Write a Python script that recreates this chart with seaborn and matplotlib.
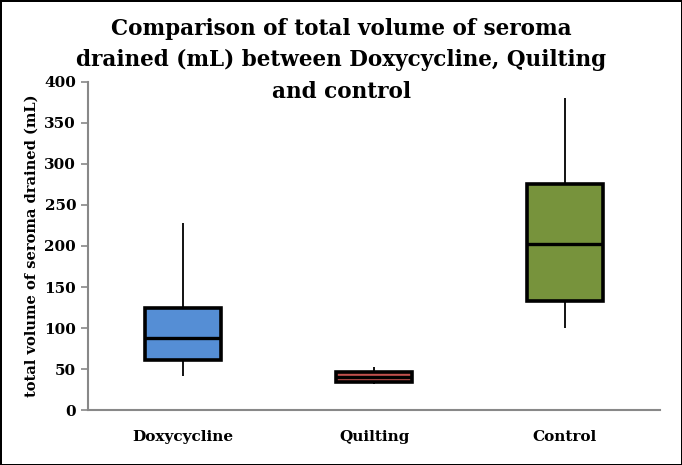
import matplotlib
matplotlib.use("Agg")
import matplotlib.pyplot as plt
import seaborn as sns
import pandas as pd
from matplotlib.ticker import FixedLocator

# five-number summaries (min, Q1, median, Q3, max)
groups = ["Doxycycline", "Quilting", "Control"]
doxycycline = [41, 61, 88, 124, 228]
quilting = [32, 34, 40, 46, 52]
control = [100, 133, 202, 276, 380]
colors = ["#558ED5", "#C0504D", "#77933C"]

df = pd.DataFrame({
    "group": [g for g, v in zip(groups, [doxycycline, quilting, control]) for _ in v],
    "volume": doxycycline + quilting + control,
})

sns.set_style("white")
plt.rcParams["font.family"] = ["DejaVu Serif"]
plt.rcParams["text.color"] = "black"
plt.rcParams["axes.labelcolor"] = "black"

fig = plt.figure(figsize=(6.82, 4.65), dpi=100)
fig.patch.set_edgecolor("black")
fig.patch.set_linewidth(2)
ax = fig.add_axes([0.129, 0.118, 0.839, 0.706])

sns.boxplot(data=df, x="group", y="volume", hue="group", palette=colors,
            order=groups, whis=(0, 100), width=0.4, saturation=1, ax=ax, legend=False,
            boxprops=dict(edgecolor="black", linewidth=2.6),
            medianprops=dict(color="black", linewidth=2.4),
            whiskerprops=dict(color="black", linewidth=1.3),
            capprops=dict(linewidth=0))

ax.set_ylim(0, 400)
ax.set_xlim(-0.5, 2.5)
ax.set_yticks(range(0, 401, 50))
ax.xaxis.set_minor_locator(FixedLocator([-0.5, 0.5, 1.5, 2.5]))
ax.tick_params(axis="x", which="major", length=0, pad=14, labelcolor="black")
ax.tick_params(axis="x", which="minor", length=5, color="#888888", width=1.2)
ax.tick_params(axis="y", length=5, color="#888888", width=1.2, left=True, labelcolor="black")
for lab in ax.get_xticklabels() + ax.get_yticklabels():
    lab.set_fontweight("bold")
    lab.set_fontsize(11)
sns.despine(ax=ax)
for s in ["left", "bottom"]:
    ax.spines[s].set_color("#888888")
    ax.spines[s].set_linewidth(1.5)

ax.set_xlabel("")
ax.set_ylabel("total volume of seroma drained (mL)", fontsize=10.5, fontweight="bold")
fig.suptitle("Comparison of total volume of seroma\ndrained (mL) between Doxycycline, Quilting\nand control",
             fontsize=15.5, fontweight="bold", y=0.962, linespacing=1.55)

fig.savefig("out.png", dpi=100, edgecolor=fig.get_edgecolor())
